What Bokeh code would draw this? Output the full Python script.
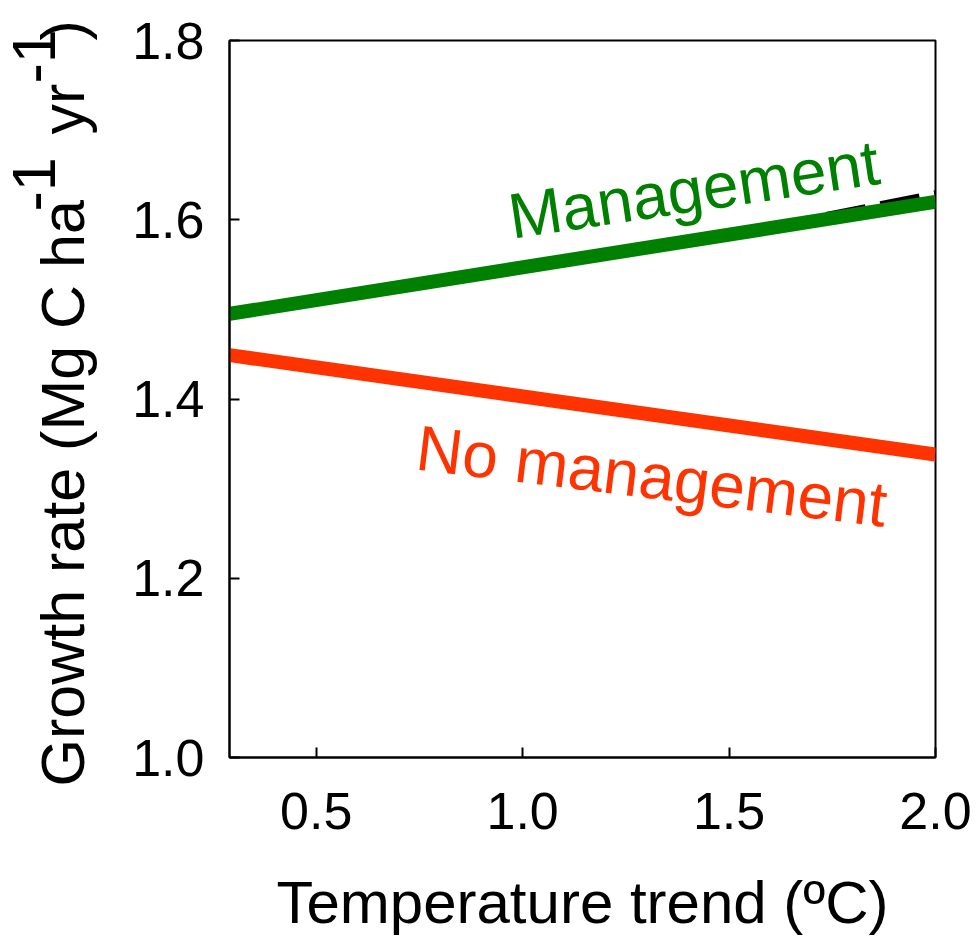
import math
from bokeh.plotting import figure
from bokeh.layouts import row
from bokeh.models import Range1d, FixedTicker, ColumnDataSource
from bokeh.core.properties import value
from bokeh.embed import file_html
from bokeh.resources import INLINE

# Data
temp_trend = [0.29, 2.0]
growth_management = [1.495, 1.620]
dashed_x = [0.29, 1.6, 2.0]
dashed_y = [1.495, 1.591, 1.628]
growth_no_management = [1.449, 1.338]

x_ticks = [0.5, 1.0, 1.5, 2.0]
y_ticks = [1.0, 1.2, 1.4, 1.6, 1.8]

label_text = ["Management", "No management"]
label_x = [0.967, 0.744]
label_y = [1.603, 1.346]
label_angle = [0.148, -0.122]
label_color = ["#008000", "#ff3300"]

y_title_pieces = ["Growth rate (Mg C ha", "-1", "yr", "-1", ")"]
y_title_raised = [False, True, False, True, False]

FONT = "Liberation Sans"
PAGE_W, PAGE_H = 977, 941
STRIP_W = 112                      # width of the strip that carries the y title
FRAME_L, FRAME_T, FRAME_R, FRAME_B = 229, 40, 935, 757

# ---- strip with the y-axis title (rotated text with raised superscripts) ----
yl = figure(width=STRIP_W, height=PAGE_H, output_backend="svg", toolbar_location=None,
            x_range=Range1d(0, STRIP_W), y_range=Range1d(0, PAGE_H),
            x_axis_type=None, y_axis_type=None,
            min_border_left=0, min_border_right=0, min_border_top=0, min_border_bottom=0)
yl.frame_align = False
yl.grid.visible = False
yl.outline_line_color = None
yl.background_fill_color = "white"
yl.border_fill_color = "white"

BASE_X, SUP_X, SHIFT = 89, 60, 27   # baseline columns (page px) and text anchor correction
starts = [786, 211, 134, 83, 40]   # page y where each piece begins (text reads upward)
tx = [(SUP_X if r else BASE_X) - SHIFT for r in y_title_raised]
ty = [PAGE_H - s for s in starts]
yl.text(x=tx, y=ty, text=y_title_pieces, angle=math.pi / 2, text_color="black",
        text_font=value(FONT), text_font_size="61px", text_align="left",
        text_baseline="alphabetic")

# ---- main chart ----
W = PAGE_W - STRIP_W
p = figure(width=W, height=PAGE_H, output_backend="svg", toolbar_location=None,
           x_range=Range1d(0.29, 2.0), y_range=Range1d(1.0, 1.8),
           min_border_left=FRAME_L - STRIP_W, min_border_right=PAGE_W - FRAME_R,
           min_border_top=FRAME_T, min_border_bottom=PAGE_H - FRAME_B)
p.frame_align = False
p.grid.visible = False
p.outline_line_color = "black"
p.outline_line_width = 2
p.background_fill_color = "white"
p.border_fill_color = "white"

p.line(dashed_x, dashed_y, line_color="black", line_width=9, line_dash="40 15")
p.line(temp_trend, growth_management, line_color="#008000", line_width=14)
p.line(temp_trend, growth_no_management, line_color="#ff3300", line_width=14)

src = ColumnDataSource(dict(x=label_x, y=label_y, text=label_text, angle=label_angle, color=label_color))
p.text(x="x", y="y", text="text", angle="angle", text_color="color", source=src,
       text_font=value(FONT), text_font_size="64px", text_align="left", text_baseline="alphabetic")

p.xaxis.ticker = FixedTicker(ticks=x_ticks)
p.yaxis.ticker = FixedTicker(ticks=y_ticks)
p.xaxis.major_label_overrides = {t: f"{t:.1f}" for t in x_ticks}
p.yaxis.major_label_overrides = {t: f"{t:.1f}" for t in y_ticks}

for ax in (p.xaxis[0], p.yaxis[0]):
    ax.axis_line_color = "black"
    ax.axis_line_width = 2
    ax.major_tick_in = 10
    ax.major_tick_out = 0
    ax.major_tick_line_width = 2
    ax.minor_tick_line_color = None
    ax.major_label_text_font = FONT
    ax.major_label_text_font_size = "52px"
    ax.major_label_text_color = "black"
    ax.axis_label_text_font = FONT
    ax.axis_label_text_font_size = "60px"
    ax.axis_label_text_font_style = "normal"
    ax.axis_label_text_color = "black"

p.xaxis.major_label_standoff = 35
p.yaxis.major_label_standoff = 25
p.xaxis.axis_label = "Temperature trend (ºC)"
p.xaxis.axis_label_standoff = 37

open("out.html", "w").write(file_html(row(yl, p), INLINE))
